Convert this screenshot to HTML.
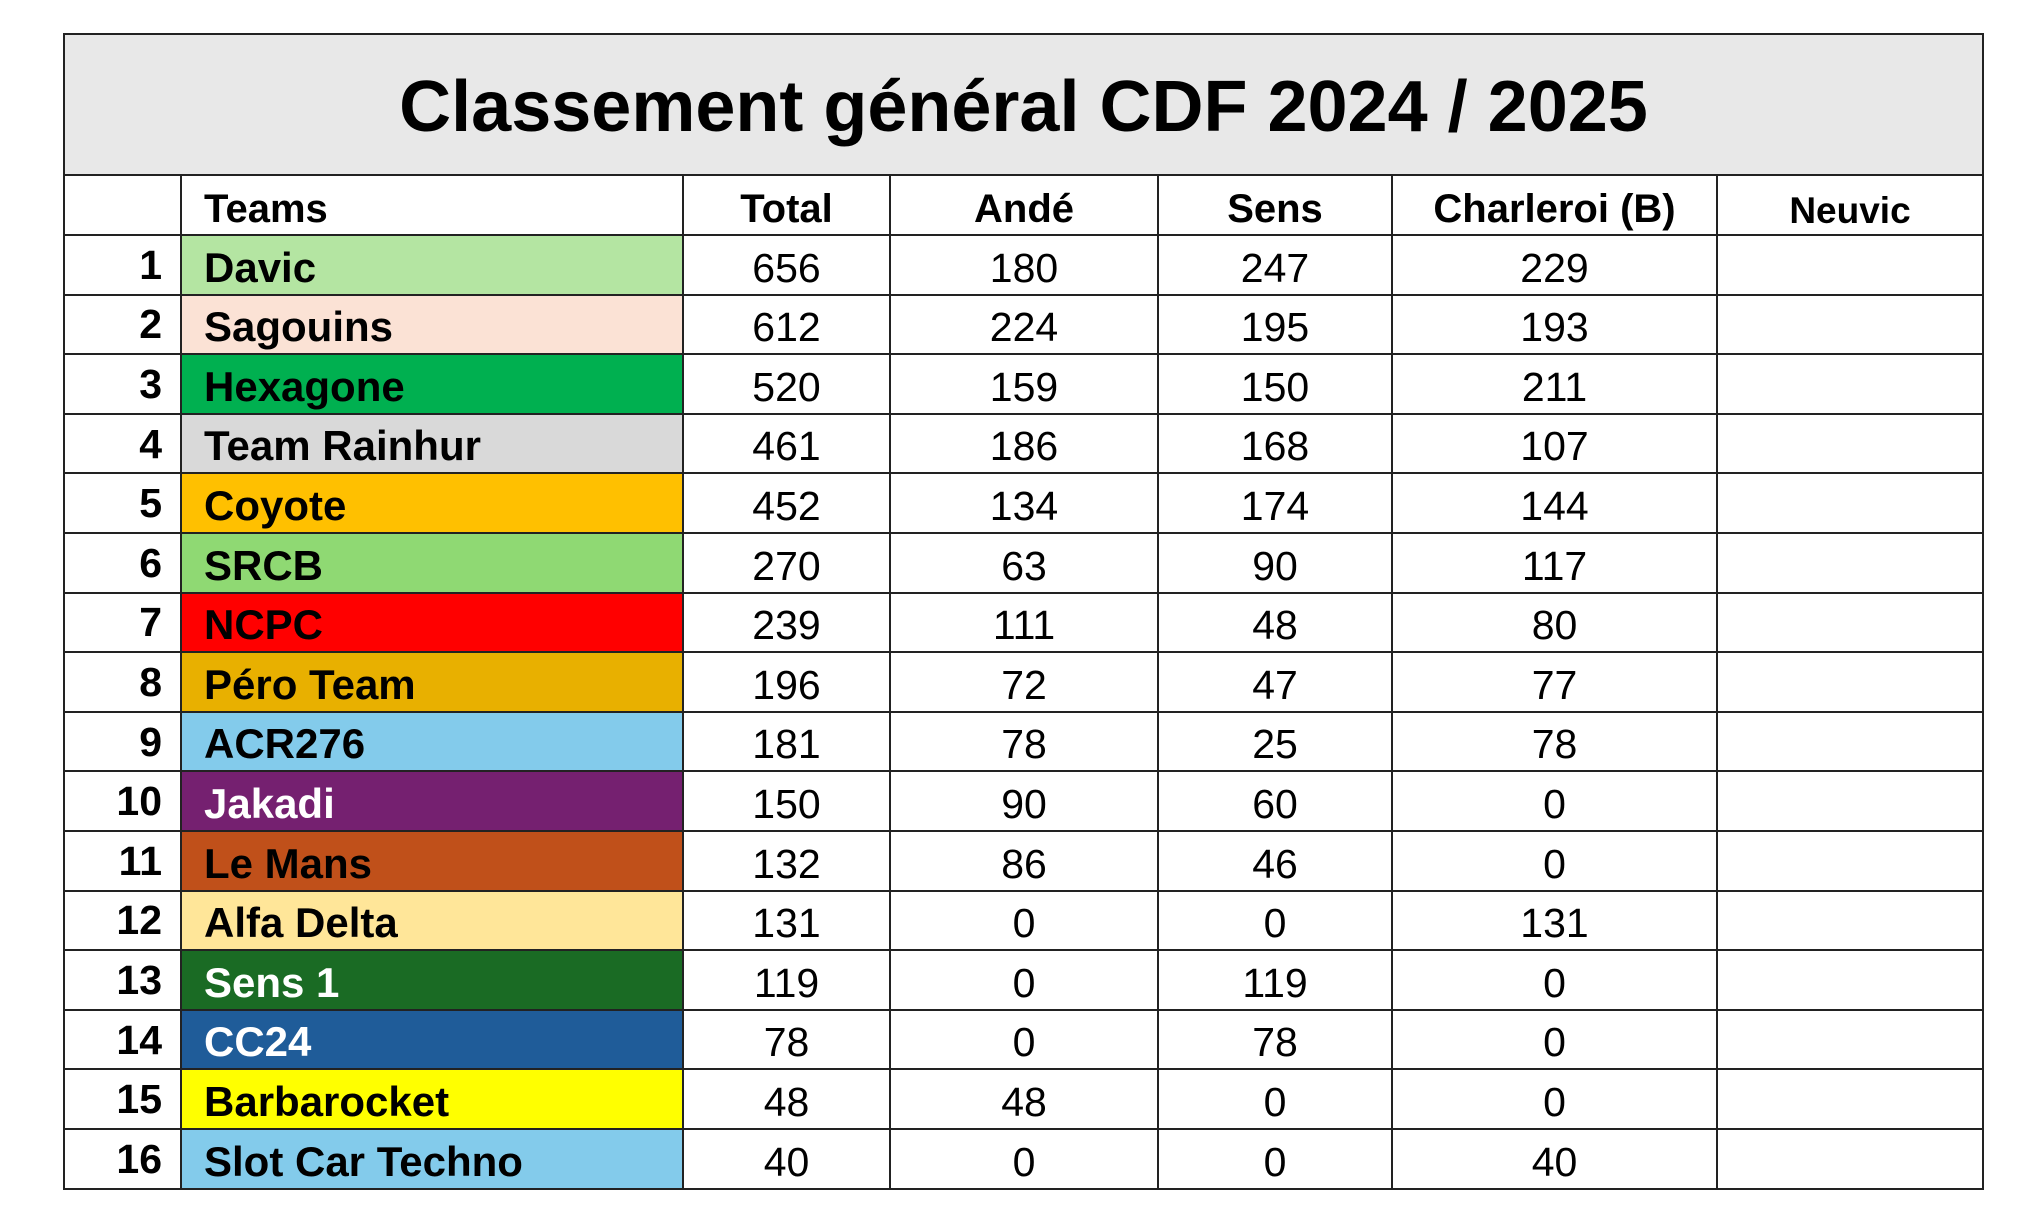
<!DOCTYPE html>
<html><head><meta charset="utf-8">
<style>
html,body{margin:0;padding:0;background:#fff;width:2044px;height:1216px;overflow:hidden}
body{font-family:"Liberation Sans",Arial,sans-serif;position:relative}
table{position:absolute;left:63px;top:33px;border-collapse:collapse;table-layout:fixed}
td{border:2px solid #222;padding:0;color:#000;white-space:nowrap;overflow:hidden}
.title{height:135px;background:#e8e8e8;text-align:center;font-weight:bold;font-size:72px;padding-top:4px}
.hdr td{height:56px;font-weight:bold;font-size:40px;text-align:center;vertical-align:bottom;padding-bottom:2px}
.row td{height:57.6px;font-size:41px;text-align:center;vertical-align:bottom;padding-bottom:0px;line-height:52px}
.row td.rk{font-weight:bold;text-align:right;padding-right:18px;line-height:50px;vertical-align:middle}
.row td.nm{font-weight:bold;text-align:left;padding-left:22px;font-size:42px}
</style></head><body>
<table id="t">
<colgroup><col style="width:117px"><col style="width:502px"><col style="width:207px"><col style="width:268px"><col style="width:234px"><col style="width:325px"><col style="width:266px"></colgroup>
<tr><td colspan="7" class="title">Classement général CDF 2024 / 2025</td></tr>
<tr class="hdr"><td></td><td style="text-align:left;padding-left:22px">Teams</td><td>Total</td><td>Andé</td><td>Sens</td><td>Charleroi (B)</td><td style="font-size:37px">Neuvic</td></tr>
</table>
<script>
const teams=["Davic","Sagouins","Hexagone","Team Rainhur","Coyote","SRCB","NCPC","Péro Team","ACR276","Jakadi","Le Mans","Alfa Delta","Sens 1","CC24","Barbarocket","Slot Car Techno"];
const total=[656,612,520,461,452,270,239,196,181,150,132,131,119,78,48,40];
const ande=[180,224,159,186,134,63,111,72,78,90,86,0,0,0,48,0];
const sens=[247,195,150,168,174,90,48,47,25,60,46,0,119,78,0,0];
const charleroi=[229,193,211,107,144,117,80,77,78,0,0,131,0,0,0,40];
const colors=["#b4e5a2","#fbe2d5","#00b050","#d9d9d9","#ffc000","#8fd973","#ff0000","#e8b000","#83cbeb","#752070","#c0501a","#ffe699","#1a6b24","#1f5c99","#ffff00","#83cbeb"];
const white=[false,false,false,false,false,false,false,false,false,true,false,false,true,true,false,false];
const t=document.getElementById('t');
teams.forEach((n,i)=>{
  const tr=document.createElement('tr');tr.className='row';
  
  
  const vals=[i+1,n,total[i],ande[i],sens[i],charleroi[i],''];
  const names=['rank','team-name','total','ande','sens','charleroi','neuvic'];
  vals.forEach((v,j)=>{
    const td=document.createElement('td');td.textContent=v;
    
    
    if(j==0)td.className='rk';
    if(j==1){td.className='nm';td.style.background=colors[i];if(white[i])td.style.color='#fff';}
    tr.appendChild(td);
  });
  t.appendChild(tr);
});
</script>
</body></html>
